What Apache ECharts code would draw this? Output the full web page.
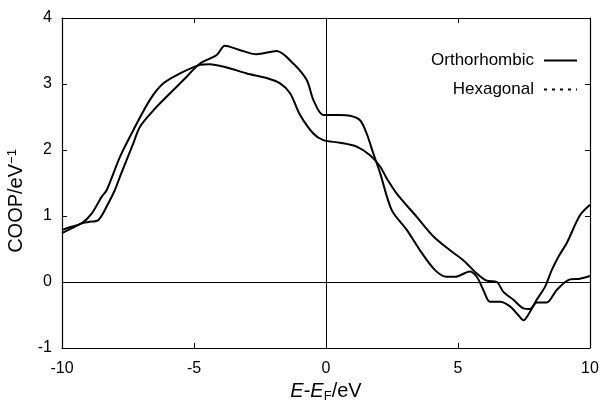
<!DOCTYPE html>
<html>
<head>
<meta charset="utf-8">
<script src="https://cdn.jsdelivr.net/npm/echarts@6/dist/echarts.min.js"></script>
<style>
  html, body { margin: 0; padding: 0; background: #fff; }
  #chart { width: 602px; height: 400px; }
</style>
</head>
<body>
<div id="chart"></div>
<script>
// COOP 曲线数据
var hexX = [-10, -9.6, -9.25, -9.0, -8.62, -8.25, -8.0, -7.8, -7.3, -7.05, -6.54, -6.03, -5.4, -4.77, -4.14, -3.83, -3.3, -2.63, -1.87, -1.24, -0.73, -0.48, -0.1, 0.5, 0.91, 1.29, 1.54, 1.79, 2.05, 2.49, 3.06, 3.56, 4.13, 4.57, 4.9, 5.45, 5.71, 5.96, 6.21, 6.59, 6.97, 7.28, 7.48, 7.73, 7.98, 8.3, 8.55, 8.8, 9.12, 9.62, 10];
var hexY = [0.74, 0.82, 0.89, 0.91, 0.94, 1.19, 1.39, 1.6, 2.1, 2.35, 2.6, 2.81, 3.06, 3.31, 3.44, 3.58, 3.52, 3.45, 3.5, 3.31, 3.06, 2.76, 2.53, 2.53, 2.52, 2.45, 2.25, 1.95, 1.65, 1.09, 0.79, 0.48, 0.18, 0.08, 0.08, 0.16, 0.08, -0.12, -0.3, -0.3, -0.37, -0.5, -0.58, -0.45, -0.27, -0.07, 0.18, 0.38, 0.59, 1.01, 1.17];

var orthoX = [-10, -9.6, -9.25, -8.87, -8.5, -8.31, -7.8, -7.3, -6.67, -6.16, -5.53, -4.77, -4.4, -3.76, -3.0, -2.25, -1.74, -1.36, -0.98, -0.48, -0.1, 0.53, 1.16, 1.67, 2.05, 2.3, 2.68, 3.43, 4.07, 4.7, 5.2, 5.71, 6.09, 6.47, 6.72, 7.1, 7.48, 7.73, 7.98, 8.36, 8.74, 9.24, 9.62, 10];
var orthoY = [0.79, 0.84, 0.89, 1.04, 1.29, 1.39, 1.9, 2.3, 2.76, 3.01, 3.16, 3.29, 3.3, 3.25, 3.16, 3.09, 3.01, 2.86, 2.53, 2.25, 2.15, 2.11, 2.05, 1.92, 1.75, 1.57, 1.34, 0.99, 0.69, 0.48, 0.33, 0.13, 0.02, 0.0, -0.15, -0.27, -0.4, -0.41, -0.31, -0.31, -0.12, 0.04, 0.05, 0.09];

var seriesNames = ['Orthorhombic', 'Hexagonal'];

function pairs(xs, ys) {
  return xs.map(function (x, i) { return [x, ys[i]]; });
}

var font = 'Liberation Sans, Arial, sans-serif';

var axisCommon = {
  type: 'value',
  axisLine: { show: true, onZero: false, lineStyle: { color: '#000', width: 1.2 } },
  axisTick: { show: true, inside: true, length: 5, lineStyle: { color: '#000' } },
  splitLine: { show: false }
};

var option = {
  animation: false,
  backgroundColor: '#fff',
  grid: { left: 62, right: 12, top: 18, bottom: 52, outerBoundsMode: 'none' },
  legend: {
    orient: 'vertical',
    right: 19,
    top: 47,
    align: 'right',
    itemWidth: 33,
    itemHeight: 14,
    itemGap: 12,
    itemStyle: { opacity: 0 },
    textStyle: { color: '#000', fontSize: 17, fontFamily: font, padding: [0, 5, 0, 0] },
    data: [
      { name: seriesNames[0], lineStyle: { type: 'solid', width: 2, color: '#000' } },
      { name: seriesNames[1], lineStyle: { type: [3, 5], width: 2, color: '#000' } }
    ]
  },
  xAxis: [
    Object.assign({}, axisCommon, {
      min: -10, max: 10, interval: 5,
      position: 'bottom',
      axisLabel: { color: '#000', fontSize: 16, fontFamily: font, margin: 13 },
      name: '{i|E}-{i|E}{sub|F}/eV',
      nameLocation: 'middle',
      nameGap: 30,
      nameTextStyle: {
        color: '#000', fontSize: 20, fontFamily: font,
        rich: {
          i: { fontStyle: 'italic', fontSize: 20, fontFamily: font, color: '#000' },
          sub: { fontSize: 13, fontFamily: font, color: '#000', padding: [9, 0, 0, 0] }
        }
      }
    }),
    Object.assign({}, axisCommon, {
      min: -10, max: 10, interval: 5,
      position: 'top',
      axisLabel: { show: false }
    })
  ],
  yAxis: [
    Object.assign({}, axisCommon, {
      min: -1, max: 4, interval: 1,
      position: 'left',
      axisLabel: { color: '#000', fontSize: 16, fontFamily: font, margin: 10 },
      name: 'COOP/eV{sup|−1}',
      nameLocation: 'middle',
      nameGap: 30,
      nameTextStyle: {
        color: '#000', fontSize: 20, fontFamily: font,
        padding: [0, 36, 0, 0],
        rich: {
          sup: { fontSize: 13, fontFamily: font, color: '#000', padding: [0, 0, 9, 0] }
        }
      }
    }),
    Object.assign({}, axisCommon, {
      min: -1, max: 4, interval: 1,
      position: 'right',
      axisLabel: { show: false }
    })
  ],
  series: [
    {
      name: seriesNames[0],
      type: 'line',
      symbol: 'none',
      smooth: 0.3,
      data: pairs(orthoX, orthoY),
      lineStyle: { color: '#000', width: 2 },
      itemStyle: { color: '#000' },
      markLine: {
        silent: true,
        symbol: 'none',
        label: { show: false },
        lineStyle: { color: '#000', width: 1, type: 'solid' },
        data: [{ xAxis: 0 }, { yAxis: 0 }]
      }
    },
    {
      name: seriesNames[1],
      type: 'line',
      symbol: 'none',
      smooth: 0.3,
      data: pairs(hexX, hexY),
      lineStyle: { color: '#000', width: 2 },
      itemStyle: { color: '#000' }
    }
  ]
};

var myChart = echarts.init(document.getElementById('chart'));
myChart.setOption(option);
</script>
</body>
</html>
